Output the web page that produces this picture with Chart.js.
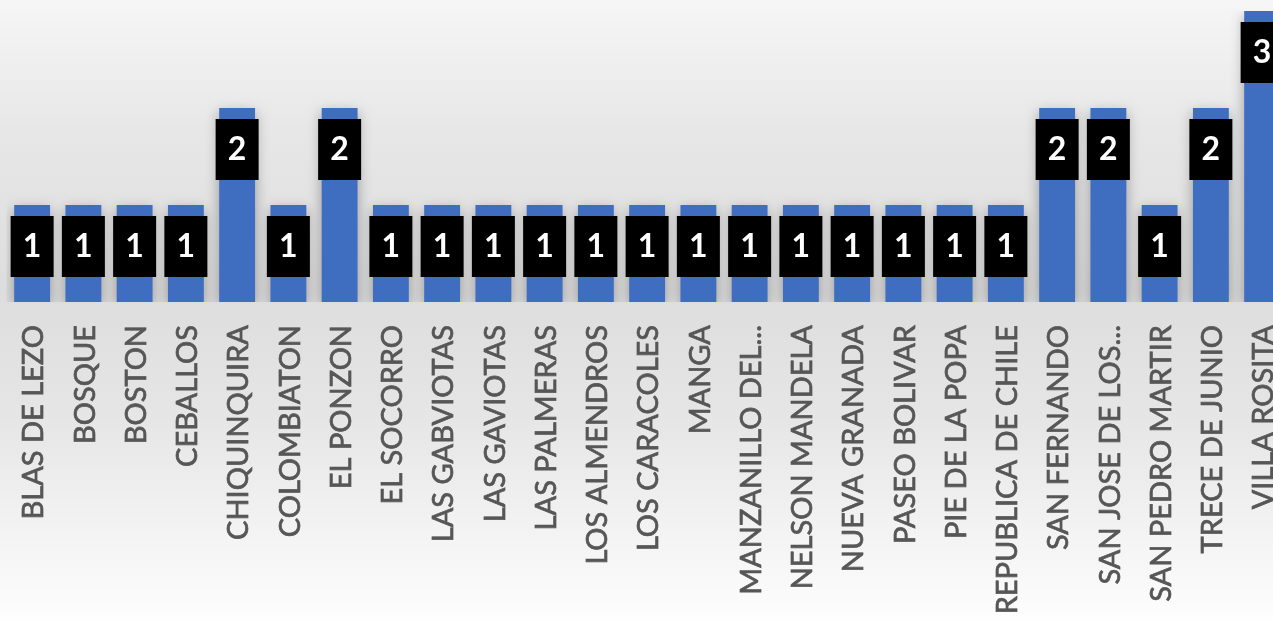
<!DOCTYPE html>
<html>
<head>
<meta charset="utf-8">
<script src="https://cdn.jsdelivr.net/npm/chart.js@4.4.0/dist/chart.umd.min.js"></script>
<style>
  html, body { margin: 0; padding: 0; overflow: hidden; }
  body {
    width: 1273px; height: 628px;
    background: linear-gradient(to bottom, #f6f6f6 0px, #e7e7e7 130px, #dddddd 290px, #e6e6e6 420px, #fbfbfb 600px, #ffffff 628px);
  }
  #wrap { position: absolute; left: 0; top: 0; width: 1300px; height: 702px; }
</style>
</head>
<body>
<div id="wrap"><canvas id="barrios"></canvas></div>
<script>
const barrios = ['BLAS DE LEZO', 'BOSQUE', 'BOSTON', 'CEBALLOS', 'CHIQUINQUIRA', 'COLOMBIATON', 'EL PONZON',
  'EL SOCORRO', 'LAS GABVIOTAS', 'LAS GAVIOTAS', 'LAS PALMERAS', 'LOS ALMENDROS', 'LOS CARACOLES', 'MANGA',
  'MANZANILLO DEL...', 'NELSON MANDELA', 'NUEVA GRANADA', 'PASEO BOLIVAR', 'PIE DE LA POPA', 'REPUBLICA DE CHILE',
  'SAN FERNANDO', 'SAN JOSE DE LOS...', 'SAN PEDRO MARTIR', 'TRECE DE JUNIO', 'VILLA ROSITA'];
const casos = [1, 1, 1, 1, 2, 1, 2, 1, 1, 1, 1, 1, 1, 1, 1, 1, 1, 1, 1, 1, 2, 2, 1, 2, 3];

// black value boxes over the top of each bar
const cajas = {
  id: 'cajas',
  beforeDatasetsDraw(chart) {
    const c = chart.ctx;
    c.save();
    c.shadowColor = 'rgba(0,0,0,0.35)';
    c.shadowBlur = 14;
    c.shadowOffsetY = 5;
  },
  afterDatasetsDraw(chart) {
    const c = chart.ctx;
    c.restore();
    const meta = chart.getDatasetMeta(0);
    c.save();
    meta.data.forEach((bar, i) => {
      const x = bar.x, y = bar.y;
      c.fillStyle = '#000000';
      c.fillRect(x - 21.5, y + 11, 43, 61);
      c.fillStyle = '#ffffff';
      c.font = 'bold 32px Lato';
      c.textAlign = 'center';
      c.textBaseline = 'middle';
      c.fillText(String(chart.data.datasets[0].data[i]), x, y + 42);
    });
    c.restore();
  }
};

new Chart(document.getElementById('barrios'), {
  type: 'bar',
  data: {
    labels: barrios,
    datasets: [{
      data: casos,
      backgroundColor: '#3f6dc0',
      borderWidth: 0,
      barPercentage: 0.7,
      categoryPercentage: 1.0
    }]
  },
  options: {
    responsive: true,
    maintainAspectRatio: false,
    animation: false,
    layout: { padding: { left: 6.5, right: 12.25, top: 11, bottom: 0 } },
    plugins: { legend: { display: false }, tooltip: { enabled: false } },
    scales: {
      y: { display: false, min: 0, max: 3 },
      x: {
        grid: { display: false, drawTicks: false },
        border: { display: false },
        ticks: {
          autoSkip: false,
          minRotation: 90,
          maxRotation: 90,
          padding: 23,
          labelOffset: 2,
          color: '#565656',
          textStrokeColor: '#565656',
          textStrokeWidth: 0.7,
          font: { family: 'Lato', size: 29 }
        },
        afterFit(scale) {
          scale.height = 400;
          scale.paddingLeft = 0;
          scale.paddingRight = 0;
        }
      }
    }
  },
  plugins: [cajas]
});
</script>
</body>
</html>
